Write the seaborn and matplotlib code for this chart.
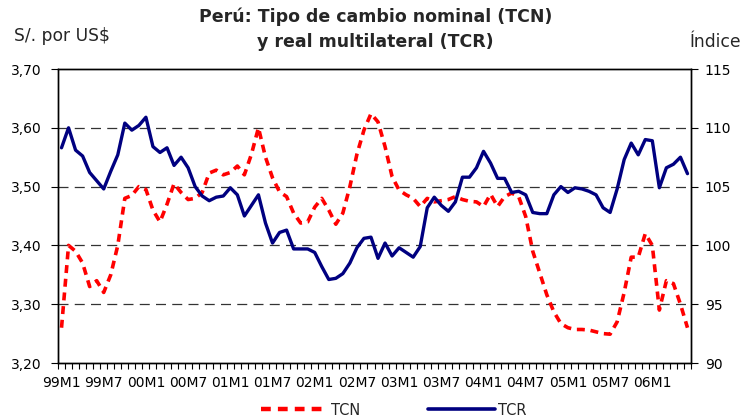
import numpy as np
import pandas as pd
import matplotlib
matplotlib.use("Agg")
import matplotlib.pyplot as plt
import matplotlib.ticker as ticker
from matplotlib.lines import Line2D
import seaborn as sns

# Monthly data, 1999M1 .. 2006M6
tcn = [3.26, 3.40, 3.39, 3.37, 3.33, 3.34, 3.32, 3.35, 3.40, 3.48,
       3.485, 3.50, 3.495, 3.46, 3.44, 3.47, 3.505, 3.49, 3.478, 3.48,
       3.49, 3.523, 3.528, 3.52, 3.524, 3.535, 3.52, 3.555, 3.60, 3.55,
       3.515, 3.491, 3.483, 3.455, 3.438, 3.44, 3.465, 3.48, 3.46, 3.436,
       3.455, 3.50, 3.555, 3.596, 3.624, 3.61, 3.568, 3.517, 3.494, 3.486,
       3.48, 3.466, 3.48, 3.474, 3.476, 3.478, 3.483, 3.478, 3.475, 3.474,
       3.466, 3.487, 3.466, 3.483, 3.489, 3.483, 3.449, 3.39, 3.353, 3.316,
       3.287, 3.267, 3.26, 3.257, 3.257, 3.256, 3.253, 3.25, 3.249, 3.27,
       3.32, 3.38, 3.38, 3.42, 3.40, 3.29, 3.34, 3.335, 3.30, 3.26]

tcr = [108.3, 110.0, 108.1, 107.6, 106.2, 105.5, 104.8, 106.3, 107.7, 110.4,
       109.8, 110.2, 110.9, 108.4, 107.9, 108.3, 106.8, 107.5, 106.6, 105.0,
       104.2, 103.8, 104.1, 104.2, 104.9, 104.3, 102.5, 103.4, 104.3, 101.9,
       100.2, 101.1, 101.3, 99.7, 99.7, 99.7, 99.4, 98.2, 97.1, 97.2,
       97.6, 98.5, 99.8, 100.6, 100.7, 98.9, 100.2, 99.1, 99.8, 99.4,
       99.0, 99.9, 103.2, 104.1, 103.4, 102.9, 103.7, 105.8, 105.8, 106.6,
       108.0, 107.0, 105.7, 105.7, 104.5, 104.6, 104.3, 102.8, 102.7, 102.7,
       104.3, 105.0, 104.5, 104.9, 104.8, 104.6, 104.3, 103.2, 102.8, 104.8,
       107.3, 108.7, 107.7, 109.0, 108.9, 104.9, 106.6, 106.9, 107.5, 106.1]

tick_labels = ["99M1", "99M7", "00M1", "00M7", "01M1", "01M7", "02M1", "02M7",
               "03M1", "03M7", "04M1", "04M7", "05M1", "05M7", "06M1"]

left_ticks = [3.20, 3.30, 3.40, 3.50, 3.60, 3.70]
right_ticks = [90, 95, 100, 105, 110, 115]

df = pd.DataFrame({"mes": np.arange(len(tcn)), "TCN": tcn, "TCR": tcr})

sns.set_theme(style="white")
plt.rcParams["font.family"] = ["DejaVu Sans"]

fig = plt.figure(figsize=(7.43, 4.19), dpi=100, facecolor="white")
ax = fig.add_axes([58 / 743, 1 - 363 / 419, (691 - 58) / 743, (363 - 69) / 419])
ax2 = ax.twinx()

red = "#FF0000"
navy = "#000080"

sns.lineplot(data=df, x="mes", y="TCN", ax=ax, color=red, linewidth=2.6,
             linestyle=(0, (2.2, 1.6)), zorder=3)
sns.lineplot(data=df, x="mes", y="TCR", ax=ax2, color=navy, linewidth=2.4, zorder=3)

# Axis ranges
ax.set_xlim(-0.5, len(tcn) - 0.5)
ax.set_ylim(3.20, 3.70)
ax2.set_ylim(90, 115)

# Gridlines (dashed) on the left axis
for v in left_ticks[1:-1]:
    ax.axhline(v, color="#333333", linewidth=0.9, linestyle=(0, (8, 5)), zorder=1)

ax.set_yticks(left_ticks)
ax.yaxis.set_major_formatter(ticker.FuncFormatter(lambda v, p: f"{v:.2f}".replace(".", ",")))
ax2.set_yticks(right_ticks)

ax.set_xticks(np.arange(0, len(tcn), 6))
ax.set_xticklabels(tick_labels)
ax.set_xticks(np.arange(-0.5, len(tcn), 1), minor=True)
ax.tick_params(axis="x", which="major", length=0, pad=9, labelsize=10, colors="black")
ax.tick_params(axis="x", which="minor", length=4, width=0.8, direction="out", color="black",
               bottom=True)
ax.tick_params(axis="y", which="major", length=5, width=0.8, direction="out", left=True,
               labelsize=10, colors="black", pad=7)
ax2.tick_params(axis="y", which="major", length=5, width=0.8, direction="out", right=True,
                labelsize=10, colors="black", pad=5)

ax.set_xlabel("")
ax.set_ylabel("")
ax2.set_ylabel("")

for a in (ax, ax2):
    for s in a.spines.values():
        s.set_color("black")
        s.set_linewidth(1.0)

# Titles and axis captions
fig.text(0.505, 1 - 17 / 419, "Perú: Tipo de cambio nominal (TCN)", ha="center", va="center",
         fontsize=12.5, fontweight="bold")
fig.text(0.505, 1 - 42 / 419, "y real multilateral (TCR)", ha="center", va="center",
         fontsize=12.5, fontweight="bold")
fig.text(14 / 743, 1 - 36 / 419, "S/. por US$", ha="left", va="center", fontsize=12.3)
fig.text(741 / 743, 1 - 42 / 419, "Índice", ha="right", va="center", fontsize=12.3)

handles = [Line2D([], [], color=red, linewidth=3.2, linestyle=(0, (2.2, 1.6))),
           Line2D([], [], color=navy, linewidth=2.6)]
fig.legend(handles, ["TCN", "TCR"], loc="center", bbox_to_anchor=(0.53, 1 - 410 / 419),
           ncol=2, frameon=False, fontsize=10.5, handlelength=4.6, columnspacing=4.6,
           handletextpad=0.2)

fig.savefig("out.png", dpi=100, facecolor="white")
